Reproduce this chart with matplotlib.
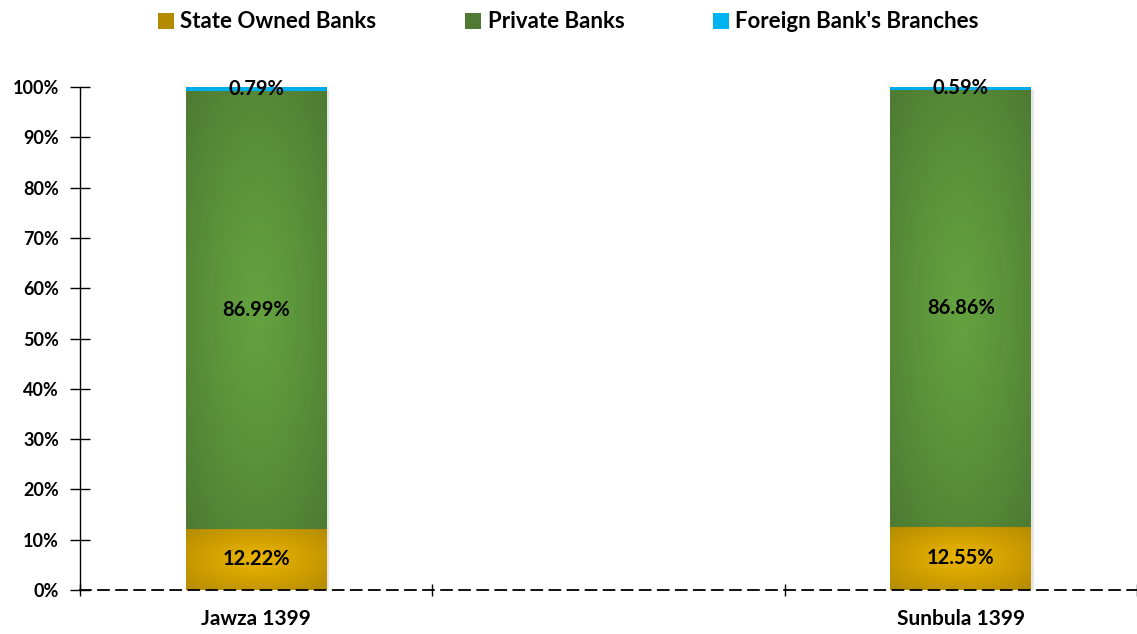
import numpy as np
import matplotlib
matplotlib.use("Agg")
import matplotlib.pyplot as plt
from matplotlib.patches import Patch
from matplotlib import patheffects as pe
from matplotlib.colors import to_rgb

plt.rcParams["font.family"] = ["Lato", "DejaVu Sans"]
plt.rcParams["font.weight"] = "bold"

# Quarter slots on the category axis; the middle slot is left empty
categories = ["Jawza 1399", "", "Sunbula 1399"]
series_names = ["State Owned Banks", "Private Banks", "Foreign Bank's Branches"]
state_owned = [12.22, np.nan, 12.55]
private = [86.99, np.nan, 86.86]
foreign = [0.79, np.nan, 0.59]
y_ticks = [0, 10, 20, 30, 40, 50, 60, 70, 80, 90, 100]

# (centre colour, edge colour) for the radial fills
fills = [("#E8B200", "#B38A00"), ("#64A23F", "#4E7A33"), ("#00B4F2", "#00A8E8")]

W, H = 1137, 634
fig = plt.figure(figsize=(W / 100, H / 100), dpi=100)
ax = fig.add_axes([80 / W, (H - 590) / H, (W - 80) / W, (590 - 87) / H])

x = np.arange(len(categories))
bar_width = 0.40


def radial_fill(ax, rect, c_in, c_out):
    x0, y0 = rect.get_x(), rect.get_y()
    w, h = rect.get_width(), rect.get_height()
    if not np.isfinite(h) or h == 0:
        return
    n = 200
    u = np.linspace(-1, 1, n)
    uu, vv = np.meshgrid(u, u)
    t = np.clip(np.sqrt(uu ** 2 + vv ** 2) / np.sqrt(2), 0, 1) ** 1.2
    ci, co = np.array(to_rgb(c_in)), np.array(to_rgb(c_out))
    img = ci[None, None, :] * (1 - t[..., None]) + co[None, None, :] * t[..., None]
    im = ax.imshow(img, extent=(x0, x0 + w, y0, y0 + h), aspect="auto",
                   origin="lower", zorder=3, interpolation="bilinear")
    im.set_clip_path(rect)


bottom = np.zeros(len(categories))
all_series = [state_owned, private, foreign]
for vals, name, (c_in, c_out) in zip(all_series, series_names, fills):
    vals = np.array(vals, dtype=float)
    bars = ax.bar(x, vals, bar_width, bottom=bottom, color=c_out, label=name,
                  zorder=2, linewidth=0)
    for rect, v in zip(bars, vals):
        if not np.isfinite(v):
            continue
        rect.set_path_effects([pe.SimplePatchShadow(offset=(2, -2), alpha=0.2,
                                                    shadow_rgbFace="#808080"),
                               pe.Normal()])
        radial_fill(ax, rect, c_in, c_out)
        ax.text(rect.get_x() + rect.get_width() / 2, rect.get_y() + v / 2,
                f"{v:.2f}%", ha="center", va="center", fontsize=14.5,
                fontweight="bold", color="black", zorder=5)
    bottom = bottom + np.nan_to_num(vals)

ax.set_xlim(-0.5, len(categories) - 0.5)
ax.set_ylim(0, 100)
ax.set_yticks(y_ticks)
ax.set_yticklabels([f"{v}%" for v in y_ticks], fontsize=13, fontweight="bold")
ax.tick_params(axis="y", direction="inout", length=14, width=1, pad=8)

ax.set_xticks(x)
ax.set_xticklabels(categories, fontsize=15, fontweight="bold")
ax.tick_params(axis="x", which="major", length=0, pad=14)
ax.set_xticks(np.arange(len(categories) + 1) - 0.5, minor=True)
ax.tick_params(axis="x", which="minor", direction="inout", length=8, width=1)

for s in ["top", "right"]:
    ax.spines[s].set_visible(False)
ax.spines["left"].set_linewidth(1)
ax.spines["bottom"].set_linestyle((0, (6, 4)))
ax.spines["bottom"].set_linewidth(1.3)
ax.spines["bottom"].set_zorder(6)

handles = [Patch(facecolor=c[0] if i == 2 else c[1], edgecolor="none")
           for i, c in enumerate(fills)]
fig.legend(handles, series_names, loc="center", bbox_to_anchor=(0.5, 1 - 22 / H),
           ncol=3, frameon=False, handlelength=0.7, handleheight=0.7,
           handletextpad=0.3, columnspacing=4.0, prop={"weight": "bold", "size": 16})

fig.savefig("out.png", dpi=100)
